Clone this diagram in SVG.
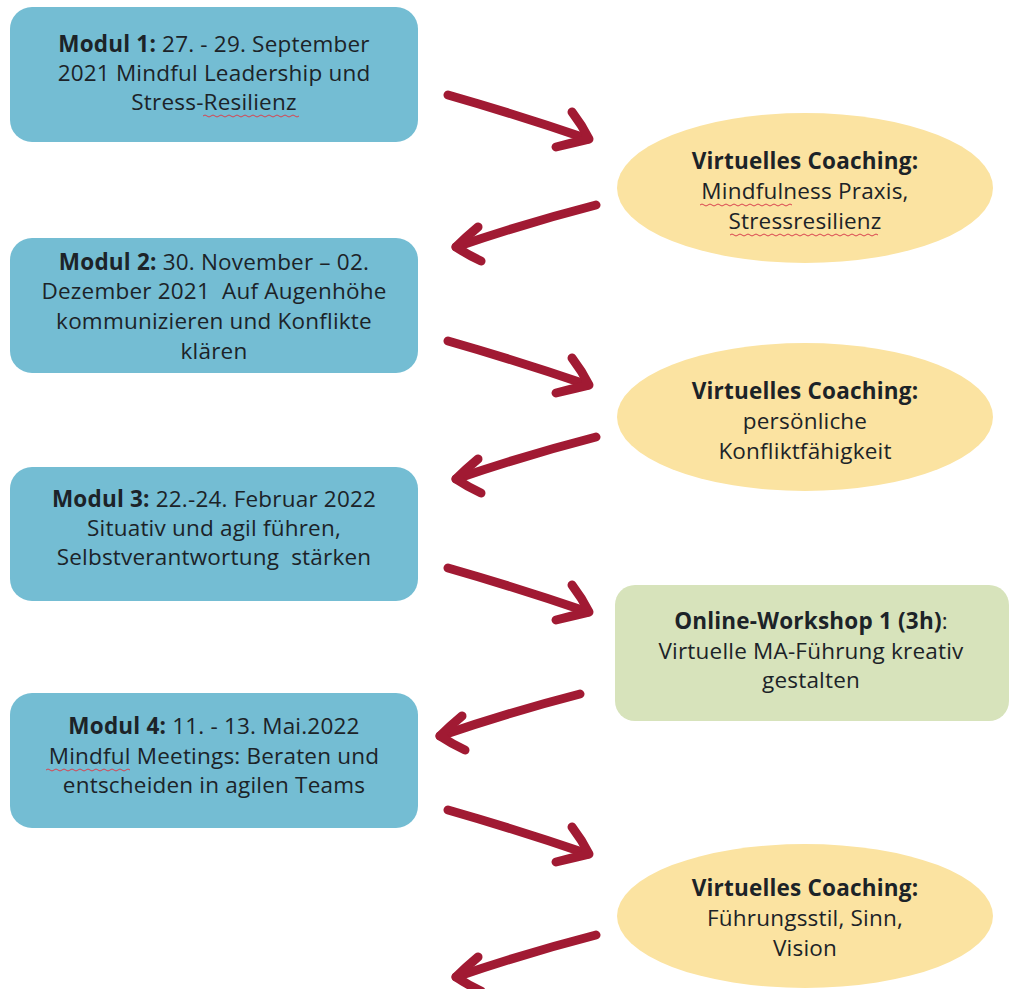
<svg xmlns="http://www.w3.org/2000/svg" xmlns:xlink="http://www.w3.org/1999/xlink" width="1013" height="989" viewBox="0 0 1013 989">
<defs>
<style>
.t{font-family:"Open Sans","Liberation Sans",sans-serif;font-size:22.5px;letter-spacing:0.2px;fill:#1c2328;text-anchor:middle}
.b{font-weight:bold}
.mod{fill:#74bdd3}
.vc{fill:#fbe3a1}
.ws{fill:#d7e3bb}
.arr{fill:none;stroke:#a11a33;stroke-width:9;stroke-linecap:round;stroke-linejoin:round}
.sp{fill:none;stroke:#d9434f;stroke-width:1}
</style>
<g id="ar">
<path d="M0,0 Q70,20 140,44"/>
<path d="M124,17 Q134,30 141,44 Q124,48 108,52"/>
</g>
<g id="al">
<path d="M0,0 Q-70,18 -140,42"/>
<path d="M-118,22 Q-130,32 -140,42 Q-128,50 -115,56"/>
</g>
</defs>
<rect width="1013" height="989" fill="#ffffff"/>
<g id="connectors" class="arr">
<use xlink:href="#ar" x="448" y="95"/>
<use xlink:href="#al" x="596" y="205"/>
<use xlink:href="#ar" x="448" y="341"/>
<use xlink:href="#al" x="596" y="437"/>
<use xlink:href="#ar" x="448" y="568"/>
<use xlink:href="#al" x="580" y="694"/>
<use xlink:href="#ar" x="448" y="810"/>
<use xlink:href="#al" x="596" y="935"/>
</g>
<g id="modul1">
<rect class="mod" x="10" y="7" width="408" height="135" rx="22"/>
<text class="t" x="214" y="52"><tspan class="b">Modul 1:</tspan> 27. - 29. September</text>
<text class="t" x="214" y="81">2021 Mindful Leadership und</text>
<text class="t" x="214" y="110">Stress-Resilienz</text>
<path class="sp" d="M203,116 q2,-2 4,0 t4,0 t4,0 t4,0 t4,0 t4,0 t4,0 t4,0 t4,0 t4,0 t4,0 t4,0 t4,0 t4,0 t4,0 t4,0 t4,0 t4,0 t4,0 t4,0 t4,0 t4,0 t4,0 t4,0"/>
</g>
<g id="coaching1">
<ellipse class="vc" cx="805" cy="188" rx="188" ry="75"/>
<text class="t" x="805" y="169"><tspan class="b">Virtuelles Coaching:</tspan></text>
<text class="t" x="805" y="199">Mindfulness Praxis,</text>
<text class="t" x="805" y="229">Stressresilienz</text>
<path class="sp" d="M700,205 q2,-2 4,0 t4,0 t4,0 t4,0 t4,0 t4,0 t4,0 t4,0 t4,0 t4,0 t4,0 t4,0 t4,0 t4,0 t4,0 t4,0 t4,0 t4,0 t4,0 t4,0 t4,0 t4,0 t4,0"/>
<path class="sp" d="M730,235 q2,-2 4,0 t4,0 t4,0 t4,0 t4,0 t4,0 t4,0 t4,0 t4,0 t4,0 t4,0 t4,0 t4,0 t4,0 t4,0 t4,0 t4,0 t4,0 t4,0 t4,0 t4,0 t4,0 t4,0 t4,0 t4,0 t4,0 t4,0 t4,0 t4,0 t4,0 t4,0 t4,0 t4,0 t4,0 t4,0 t4,0 t4,0"/>
</g>
<g id="modul2">
<rect class="mod" x="10" y="238" width="408" height="135" rx="22"/>
<text class="t" x="214" y="270"><tspan class="b">Modul 2:</tspan> 30. November – 02.</text>
<text class="t" x="214" y="299">Dezember 2021&#160; Auf Augenhöhe</text>
<text class="t" x="214" y="329">kommunizieren und Konflikte</text>
<text class="t" x="214" y="359">klären</text>
</g>
<g id="coaching2">
<ellipse class="vc" cx="805" cy="417" rx="188" ry="74"/>
<text class="t" x="805" y="399"><tspan class="b">Virtuelles Coaching:</tspan></text>
<text class="t" x="805" y="429">persönliche</text>
<text class="t" x="805" y="459">Konfliktfähigkeit</text>
</g>
<g id="modul3">
<rect class="mod" x="10" y="467" width="408" height="134" rx="22"/>
<text class="t" x="214" y="507"><tspan class="b">Modul 3:</tspan> 22.-24. Februar 2022</text>
<text class="t" x="214" y="536">Situativ und agil führen,</text>
<text class="t" x="214" y="565">Selbstverantwortung&#160; stärken</text>
</g>
<g id="workshop1">
<rect class="ws" x="615" y="585" width="394" height="136" rx="20"/>
<text class="t" x="811" y="629"><tspan class="b">Online-Workshop 1 (3h)</tspan>:</text>
<text class="t" x="811" y="659">Virtuelle MA-Führung kreativ</text>
<text class="t" x="811" y="688">gestalten</text>
</g>
<g id="modul4">
<rect class="mod" x="10" y="693" width="408" height="135" rx="22"/>
<text class="t" x="214" y="734"><tspan class="b">Modul 4:</tspan> 11. - 13. Mai.2022</text>
<text class="t" x="214" y="764">Mindful Meetings: Beraten und</text>
<text class="t" x="214" y="793">entscheiden in agilen Teams</text>
<path class="sp" d="M46,770 q2,-2 4,0 t4,0 t4,0 t4,0 t4,0 t4,0 t4,0 t4,0 t4,0 t4,0 t4,0 t4,0 t4,0 t4,0 t4,0 t4,0 t4,0 t4,0 t4,0 t4,0 t4,0"/>
</g>
<g id="coaching3">
<ellipse class="vc" cx="805" cy="916" rx="188" ry="72"/>
<text class="t" x="805" y="896"><tspan class="b">Virtuelles Coaching:</tspan></text>
<text class="t" x="805" y="926">Führungsstil, Sinn,</text>
<text class="t" x="805" y="956">Vision</text>
</g>
</svg>
